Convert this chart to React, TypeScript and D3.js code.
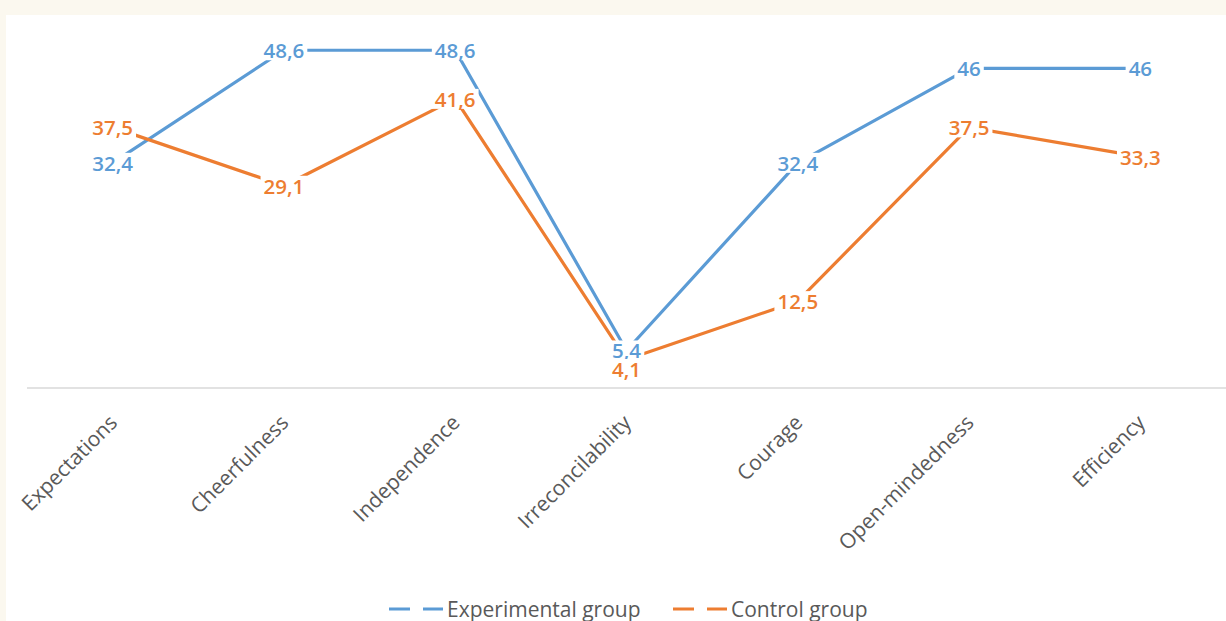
import React, { useEffect, useRef } from "react";
import * as d3 from "d3";

const categories = [
  "Expectations",
  "Cheerfulness",
  "Independence",
  "Irreconcilability",
  "Courage",
  "Open-mindedness",
  "Efficiency",
];
const experimentalValues = [32.4, 48.6, 48.6, 5.4, 32.4, 46, 46];
const controlValues = [37.5, 29.1, 41.6, 4.1, 12.5, 37.5, 33.3];
const seriesNames = ["Experimental group", "Control group"];
const seriesColors = ["#5B9BD5", "#ED7D31"];

const W = 1226;
const H = 621;

export default function App() {
  const ref = useRef<SVGSVGElement | null>(null);

  useEffect(() => {
    const svg = d3.select(ref.current);
    svg.selectAll("*").remove();

    svg.append("rect").attr("width", W).attr("height", H).attr("fill", "#FBF8EF");
    svg.append("rect").attr("x", 6).attr("y", 15).attr("width", W - 6).attr("height", H - 15).attr("fill", "#FFFFFF");

    const x = d3.scaleBand<string>().domain(categories).range([27, 1226]).padding(0);
    const cx = (c: string) => (x(c) as number) + x.bandwidth() / 2;
    const y = d3.scaleLinear().domain([0, 50]).range([388, 40.5]);

    // axis line
    svg.append("line")
      .attr("x1", 27).attr("x2", 1226)
      .attr("y1", y(0)).attr("y2", y(0))
      .attr("stroke", "#D9D9D9").attr("stroke-width", 1.5);

    // category labels
    svg.append("g").selectAll("text").data(categories).join("text")
      .attr("transform", (d) => `translate(${cx(d) + 6},${y(0) + 36}) rotate(-45)`)
      .attr("text-anchor", "end")
      .attr("font-family", "'Open Sans', sans-serif")
      .attr("font-size", 21)
      .attr("fill", "#595959")
      .text((d) => d);

    const series = [experimentalValues, controlValues];
    const line = d3.line<number>()
      .x((_, i) => cx(categories[i]))
      .y((v) => y(v));

    series.forEach((vals, si) => {
      svg.append("path")
        .attr("d", line(vals) as string)
        .attr("fill", "none")
        .attr("stroke", seriesColors[si])
        .attr("stroke-width", 3.2)
        .attr("stroke-linejoin", "round");
    });

    // data labels with white backgrounds
    series.forEach((vals, si) => {
      const g = svg.append("g");
      vals.forEach((v, i) => {
        const offset = si === 1 && i === 3 ? 9.5 : 0;
        const px = cx(categories[i]);
        const py = y(v) + offset;
        const lg = g.append("g");
        const rect = lg.append("rect").attr("fill", "#FFFFFF");
        const t = lg.append("text")
          .attr("x", px).attr("y", py)
          .attr("text-anchor", "middle")
          .attr("dominant-baseline", "central")
          .attr("font-family", "'Open Sans', sans-serif")
          .attr("font-size", 20.5)
          .attr("font-weight", 600)
          .attr("fill", seriesColors[si])
          .text(String(v).replace(".", ","));
        const bb = (t.node() as SVGTextElement).getBBox();
        rect.attr("x", bb.x - 3).attr("y", py - 10).attr("width", bb.width + 6).attr("height", 20);
      });
    });

    // legend
    const legendX = [389, 673];
    seriesNames.forEach((name, si) => {
      const lx = legendX[si];
      svg.append("line")
        .attr("x1", lx).attr("x2", lx + 54)
        .attr("y1", 609).attr("y2", 609)
        .attr("stroke", seriesColors[si])
        .attr("stroke-width", 3)
        .attr("stroke-dasharray", "21 13");
      svg.append("text")
        .attr("x", lx + 58).attr("y", 617)
        .attr("font-family", "'Open Sans', sans-serif")
        .attr("font-size", 21)
        .attr("fill", "#595959")
        .text(name);
    });
  }, []);

  return (
    <svg
      ref={ref}
      width={W}
      height={H}
      style={{ position: "fixed", left: 0, top: 0, display: "block" }}
    />
  );
}
